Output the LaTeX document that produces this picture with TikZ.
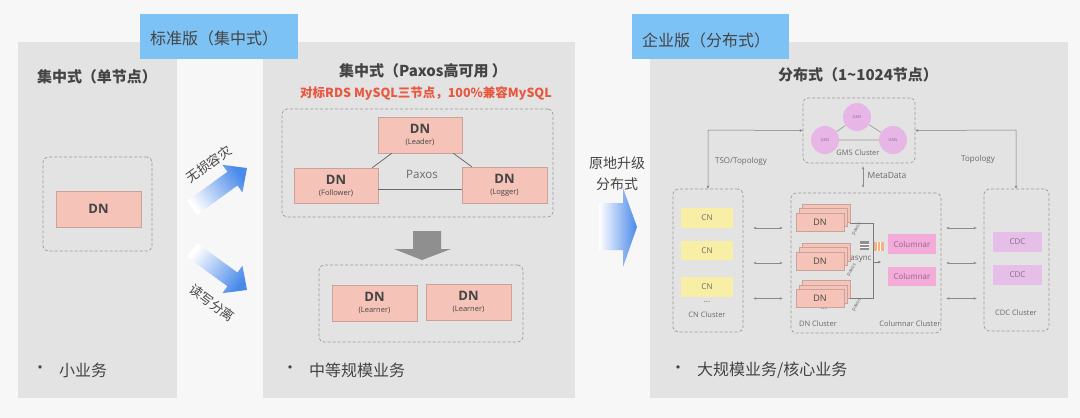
\documentclass[tikz,border=0pt]{standalone}
\usepackage{fontspec}
\setmainfont{Open Sans}
\newfontfamily\cjk{Noto Sans CJK SC}
\usetikzlibrary{arrows.meta}
\definecolor{bgc}{HTML}{F7F7F7}
\definecolor{panelc}{HTML}{E3E3E3}
\definecolor{bluelab}{HTML}{7DC2F4}
\definecolor{dnfill}{HTML}{F5C3B8}
\definecolor{dnline}{HTML}{C9A39B}
\definecolor{txt}{HTML}{444444}
\definecolor{txtl}{HTML}{6A6A6A}
\definecolor{redt}{HTML}{E8573E}
\definecolor{cnfill}{HTML}{F8EEA6}
\definecolor{colfill}{HTML}{F4ABD8}
\definecolor{cdcfill}{HTML}{E6BFE9}
\definecolor{gmsfill}{HTML}{E8B6E6}
\definecolor{arrblue}{HTML}{4A89EA}
\definecolor{greyarr}{HTML}{8F8F8F}
\definecolor{dashc}{HTML}{9A9A9A}
\definecolor{purt}{HTML}{8A6C88}
\begin{document}
\begin{tikzpicture}[x=1pt,y=-1pt,
  panel/.style={fill=panelc,draw=none},
  bluebox/.style={fill=bluelab,draw=none,minimum width=158pt,minimum height=45pt,inner sep=0pt},
  dashbox/.style={draw=dashc,line width=0.7pt,dash pattern=on 3pt off 2pt,rounded corners=5pt,inner sep=0pt},
  dnbox/.style={fill=dnfill,draw=dnline,line width=0.6pt,inner sep=0pt,align=center,text=txt},
  smallbox/.style={draw=none,inner sep=0pt,font=\fontsize{8}{9}\selectfont},
  title/.style={text=txt,font=\cjk\bfseries\fontsize{15}{17}\selectfont,inner sep=0pt},
  bullet/.style={text=txt,font=\cjk\fontsize{16}{18}\selectfont,inner sep=0pt},
  lab/.style={text=txtl,inner sep=0pt,font=\fontsize{8}{9}\selectfont},
  conn/.style={draw=dashc!80!black,line width=0.5pt},
  dbl/.style={draw=dashc!90!black,line width=0.6pt,{Stealth[length=3pt,width=2.5pt]}-{Stealth[length=3pt,width=2.5pt]}},
  gms/.style={circle,fill=gmsfill,draw=none,minimum size=28pt,inner sep=0pt,text=purt,font=\fontsize{4}{5}\selectfont}
]
\useasboundingbox (0,0) rectangle (1080,418);
\fill[bgc] (0,0) rectangle (1080,418);

% ---------- panels
\fill[panel] (18,42) rectangle (177,398);
\fill[panel] (263,42) rectangle (575,398);
\fill[panel] (650,42) rectangle (1068,398);

\node[bluebox] (lab1) at (219,36.5) {};
\node[anchor=west,text=txt,font=\cjk\fontsize{16}{18}\selectfont,inner sep=0pt] (lab1t) at (150,38) {标准版（集中式）};
\node[bluebox,minimum width=157pt] (lab2) at (710.5,36.5) {};
\node[anchor=west,text=txt,font=\cjk\fontsize{16}{18}\selectfont,inner sep=0pt] (lab2t) at (642,40) {企业版（分布式）};

% ---------- panel 1
\node[title] (t1) at (97,77) {集中式（单节点）};
\node[dashbox,minimum width=109pt,minimum height=94pt] (d1) at (97.5,204) {};
\node[dnbox,minimum width=85pt,minimum height=36pt,font=\bfseries\fontsize{13}{14}\selectfont] (dn0) at (98.5,209) {DN};
\node[bullet] (b1d) at (40,370) {•};
\node[bullet,anchor=west] (b1) at (59,370) {小业务};

% ---------- gradient arrows 1 -> 2
\begin{scope}[shift={(192,208)},rotate=36]
\shade[top color=white,bottom color=arrblue,shading angle=126]
  (0,-8.5) -- (50,-8.5) -- (50,-17) -- (68,0) -- (50,17) -- (50,8.5) -- (0,8.5) -- cycle;
\end{scope}
\begin{scope}[shift={(192,250)},rotate=-36]
\shade[top color=white,bottom color=arrblue,shading angle=54]
  (0,-8.5) -- (50,-8.5) -- (50,-17) -- (68,0) -- (50,17) -- (50,8.5) -- (0,8.5) -- cycle;
\end{scope}
\node[rotate=36,text=txt,font=\cjk\fontsize{13}{14}\selectfont,inner sep=0pt] (a1t) at (209,164) {无损容灾};
\node[rotate=-36,text=txt,font=\cjk\fontsize{13}{14}\selectfont,inner sep=0pt] (a2t) at (212,303) {读写分离};

% ---------- panel 2
\node[title] (t2) at (423,71) {集中式（Paxos高可用 ）};
\node[text=redt,font=\cjk\bfseries\fontsize{12.5}{14}\selectfont,inner sep=0pt] (t2r) at (426,93) {对标RDS MySQL三节点，100\%兼容MySQL};
\node[dashbox,minimum width=271pt,minimum height=108pt] (d2) at (417.5,163) {};
\node[dnbox,minimum width=84pt,minimum height=36pt] (lead) at (420,135)
  {{\bfseries\fontsize{13}{14}\selectfont DN}\\[-1pt]{\fontsize{7.5}{9}\selectfont (Leader)}};
\node[dnbox,minimum width=84pt,minimum height=35pt] (foll) at (336,185.5)
  {{\bfseries\fontsize{13}{14}\selectfont DN}\\[-1pt]{\fontsize{7.5}{9}\selectfont (Follower)}};
\node[dnbox,minimum width=85pt,minimum height=36pt] (logg) at (504.5,185)
  {{\bfseries\fontsize{13}{14}\selectfont DN}\\[-1pt]{\fontsize{7.5}{9}\selectfont (Logger)}};
\draw[draw=txtl,line width=0.8pt] ([xshift=14pt]lead.south west) -- ([xshift=-6pt]foll.north east);
\draw[draw=txtl,line width=0.8pt] ([xshift=-9pt]lead.south east) -- ([xshift=10pt]logg.north west);
\draw[draw=txtl,line width=0.8pt] ([yshift=-3.5pt]foll.east) -- ([yshift=-4pt]logg.west);
\node[text=txtl,font=\fontsize{11.5}{13}\selectfont,inner sep=0pt] (pax) at (422,174) {Paxos};

\fill[greyarr] (413,231) -- (441,231) -- (441,249) -- (451,249) -- (422,260) -- (394,249) -- (413,249) -- cycle;

\node[dashbox,minimum width=204pt,minimum height=77pt] (d3) at (421,303.5) {};
\node[dnbox,minimum width=85pt,minimum height=36pt] (lrn1) at (374.5,303)
  {{\bfseries\fontsize{13}{14}\selectfont DN}\\[-1pt]{\fontsize{7.5}{9}\selectfont (Learner)}};
\node[dnbox,minimum width=85pt,minimum height=36pt] (lrn2) at (468.5,302)
  {{\bfseries\fontsize{13}{14}\selectfont DN}\\[-1pt]{\fontsize{7.5}{9}\selectfont (Learner)}};
\node[bullet] (b2d) at (290,370) {•};
\node[bullet,anchor=west] (b2) at (309,370) {中等规模业务};

% ---------- arrow 2 -> 3
\shade[left color=white,right color=arrblue]
  (599,203) -- (623,203) -- (623,188) -- (637,227) -- (623,267) -- (623,250) -- (599,250) -- cycle;
\node[text=txt,font=\cjk\fontsize{14}{16}\selectfont,inner sep=0pt] (up1) at (617,163) {原地升级};
\node[text=txt,font=\cjk\fontsize{14}{16}\selectfont,inner sep=0pt] (up2) at (617,184) {分布式};

% ---------- panel 3
\node[title] (t3) at (858,75) {分布式（1\textasciitilde1024节点）};
\node[dashbox,minimum width=112pt,minimum height=65pt] (gmscl) at (859,130.5) {};
\node[gms] (g1) at (857,117) {GMS};
\node[gms] (g2) at (825,140) {GMS};
\node[gms] (g3) at (893,140) {GMS};
\draw[draw=txtl!70,line width=0.6pt] (g1) -- (g2) (g1) -- (g3) (g2) -- (g3);
\node[lab,font=\fontsize{7.5}{9}\selectfont] (gmst) at (858,153) {GMS Cluster};

\node[dashbox,minimum width=70pt,minimum height=143pt] (cncl) at (708,260.5) {};
\node[smallbox,fill=cnfill,minimum width=52pt,minimum height=20pt,text=txtl] (cn1) at (707,218) {CN};
\node[smallbox,fill=cnfill,minimum width=52pt,minimum height=19pt,text=txtl] (cn2) at (707,250.5) {CN};
\node[smallbox,fill=cnfill,minimum width=52pt,minimum height=20pt,text=txtl] (cn3) at (707,287) {CN};
\node[lab] (cnd) at (707,302) {...};
\node[lab,font=\fontsize{7.5}{9}\selectfont] (cnt) at (707,315) {CN Cluster};

\node[dashbox,minimum width=150pt,minimum height=140pt] (dncl) at (866,263) {};
\node[lab,font=\fontsize{7.5}{9}\selectfont] (dnt) at (818,324) {DN Cluster};
\node[lab,font=\fontsize{7.5}{9}\selectfont] (colt) at (910,324) {Columnar Cluster};

% DN stacks
\foreach \n/\y in {s1/222,s2/261,s3/298.5}{
  \node[dnbox,minimum width=48pt,minimum height=18pt] (\n c) at (826,\y-9) {};
  \node[dnbox,minimum width=48pt,minimum height=18pt] (\n b) at (823,\y-4.5) {};
  \node[dnbox,minimum width=48pt,minimum height=18pt,font=\fontsize{9}{10}\selectfont] (\n a) at (820,\y) {DN};
}
\node[lab] (dnd) at (824,309) {...};
\node[rotate=60,text=txtl,inner sep=0pt,font=\fontsize{5}{6}\selectfont] (px1) at (857,229) {paxos};
\node[rotate=60,text=txtl,inner sep=0pt,font=\fontsize{5}{6}\selectfont] (px2) at (852,270) {paxos};
\node[rotate=60,text=txtl,inner sep=0pt,font=\fontsize{5}{6}\selectfont] (px3) at (857,305) {paxos};
\coordinate (br1) at (873,223);
\coordinate (br2) at (873,298);
\coordinate (br3) at (873,262);
\draw[conn] (s1c.east |- br1) -- (br1) -- (br2) -- (s3c.east |- br2);
\draw[conn,-{Stealth[length=3pt,width=2.5pt]}] (br3) -- ++(8,0);
% icons
\fill[greyarr] (860,241) rectangle (869,250);
\draw[white,line width=0.5pt] (860,244) -- (869,244) (860,247) -- (869,247);
\fill[dnfill!70!orange] (874,242) rectangle (884,251);
\draw[white,line width=0.6pt] (877.3,242) -- (877.3,251) (880.6,242) -- (880.6,251);
\node[lab,font=\fontsize{8}{9}\selectfont] (async) at (861,259) {async};

\node[smallbox,fill=colfill,minimum width=48pt,minimum height=20pt,text=purt] (col1) at (912,244) {Columnar};
\node[smallbox,fill=colfill,minimum width=48pt,minimum height=19pt,text=purt] (col2) at (912,276.5) {Columnar};

\node[dashbox,minimum width=65pt,minimum height=142pt] (cdccl) at (1016.5,260) {};
\node[smallbox,fill=cdcfill,minimum width=49pt,minimum height=20pt,text=purt] (cdc1) at (1017.5,242) {CDC};
\node[smallbox,fill=cdcfill,minimum width=49pt,minimum height=20pt,text=purt] (cdc2) at (1017.5,275) {CDC};
\node[lab,font=\fontsize{7.5}{9}\selectfont] (cdct) at (1016,313) {CDC Cluster};

% double arrows
\coordinate (h1) at (0,228);
\coordinate (h2) at (0,263);
\coordinate (h3) at (0,298.5);
\foreach \h in {h1,h2,h3}{
  \draw[dbl,shorten <=10pt,shorten >=8pt] (cncl.east |- \h) -- (dncl.west |- \h);
  \draw[dbl,shorten <=5pt,shorten >=7pt] (dncl.east |- \h) -- (cdccl.west |- \h);
}

% GMS connectors
\coordinate (gl) at (708,130);
\coordinate (gr) at (1016,130);
\draw[conn,{Stealth[length=3pt,width=2.5pt]}-{Stealth[length=3pt,width=2.5pt]}] (gmscl.west) -- (gl) -- (cncl.north -| gl);
\draw[conn,{Stealth[length=3pt,width=2.5pt]}-{Stealth[length=3pt,width=2.5pt]}] (gmscl.east) -- (gr) -- (cdccl.north -| gr);
\coordinate (mx) at (863,0);
\draw[dbl,line width=0.5pt,shorten <=3pt,shorten >=5pt] (gmscl.south -| mx) -- (dncl.north -| mx);
\node[lab] (tso) at (741,161) {TSO/Topology};
\node[lab] (topo) at (978,159) {Topology};
\node[lab,font=\fontsize{8.5}{10}\selectfont] (meta) at (887,176) {MetaData};

\node[bullet] (b3d) at (678,370) {•};
\node[bullet,anchor=west] (b3) at (697,370) {大规模业务/核心业务};
\end{tikzpicture}
\end{document}
